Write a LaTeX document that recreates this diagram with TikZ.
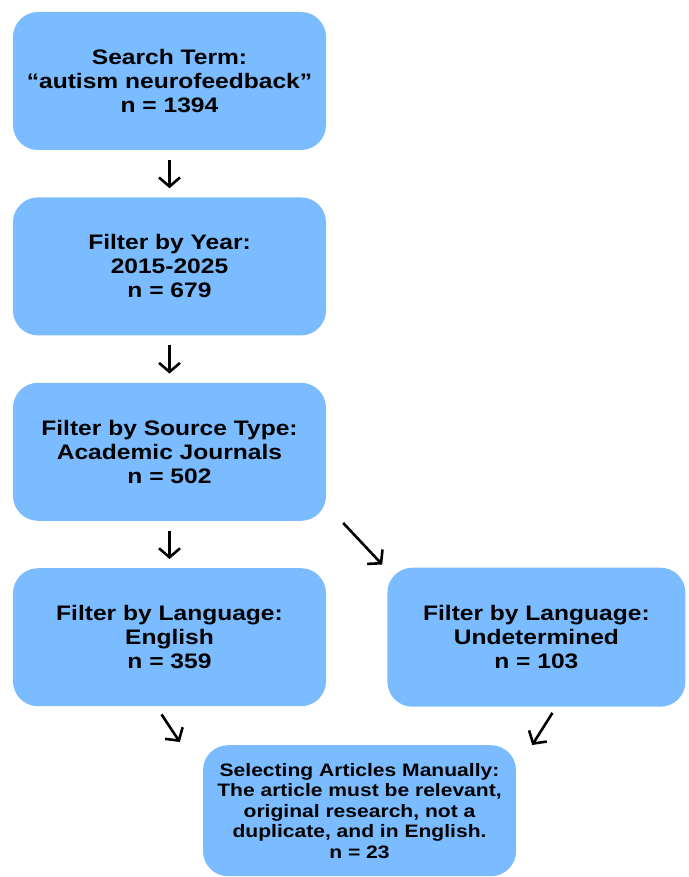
\documentclass[tikz,border=0pt]{standalone}
\usepackage{fontspec}
\setmainfont[FakeStretch=1.17]{Liberation Sans}
\usetikzlibrary{arrows.meta,positioning}
\definecolor{boxblue}{RGB}{122,188,255}

\begin{document}
\begin{tikzpicture}[x=1pt, y=1pt,
  box/.style={fill=boxblue, rounded corners=25pt, minimum width=313pt, minimum height=138pt,
    inner sep=0pt, align=center, font=\fontsize{21}{24}\selectfont\bfseries},
  arr/.style={line width=2.6pt, -{Straight Barb[length=9pt, width=21pt, line width=2.6pt]}}]
\useasboundingbox (0,0) rectangle (688,-877);

% boxes
\node[box] (search) at (169.5,-81) {Search Term:\\``autism neurofeedback''\\n = 1394};
\node[box, below=47pt of search] (year) {Filter by Year:\\2015-2025\\n = 679};
\node[box, below=47pt of year] (source) {Filter by Source Type:\\Academic Journals\\n = 502};
\node[box, below=47pt of source] (english) {Filter by Language:\\English\\n = 359};
\node[box, right=61pt of english, minimum width=298pt, minimum height=139pt] (undet) {Filter by Language:\\Undetermined\\n = 103};
\node[box, anchor=north, minimum height=131pt, font=\fontsize{18}{20.5}\selectfont\bfseries] (manual) at (359.5,-745)
  {Selecting Articles Manually:\\The article must be relevant,\\original research, not a\\duplicate, and in English.\\n = 23};

% arrows
\draw[arr, shorten <=10pt, shorten >=9pt] (search) -- (year);
\draw[arr, shorten <=9pt, shorten >=9pt] (year) -- (source);
\draw[arr, shorten <=10pt, shorten >=9pt] (source) -- (english);
\draw[arr] ([xshift=17pt,yshift=-2pt]source.south east) -- ([xshift=-5pt,yshift=3pt]undet.north west);
\draw[arr] ([xshift=-8pt,yshift=-8pt]english.south) -- ([xshift=-23pt,yshift=3pt]manual.north west);
\draw[arr] ([xshift=16pt,yshift=-6pt]undet.south) -- ([xshift=16pt]manual.north east);
\end{tikzpicture}
\end{document}
